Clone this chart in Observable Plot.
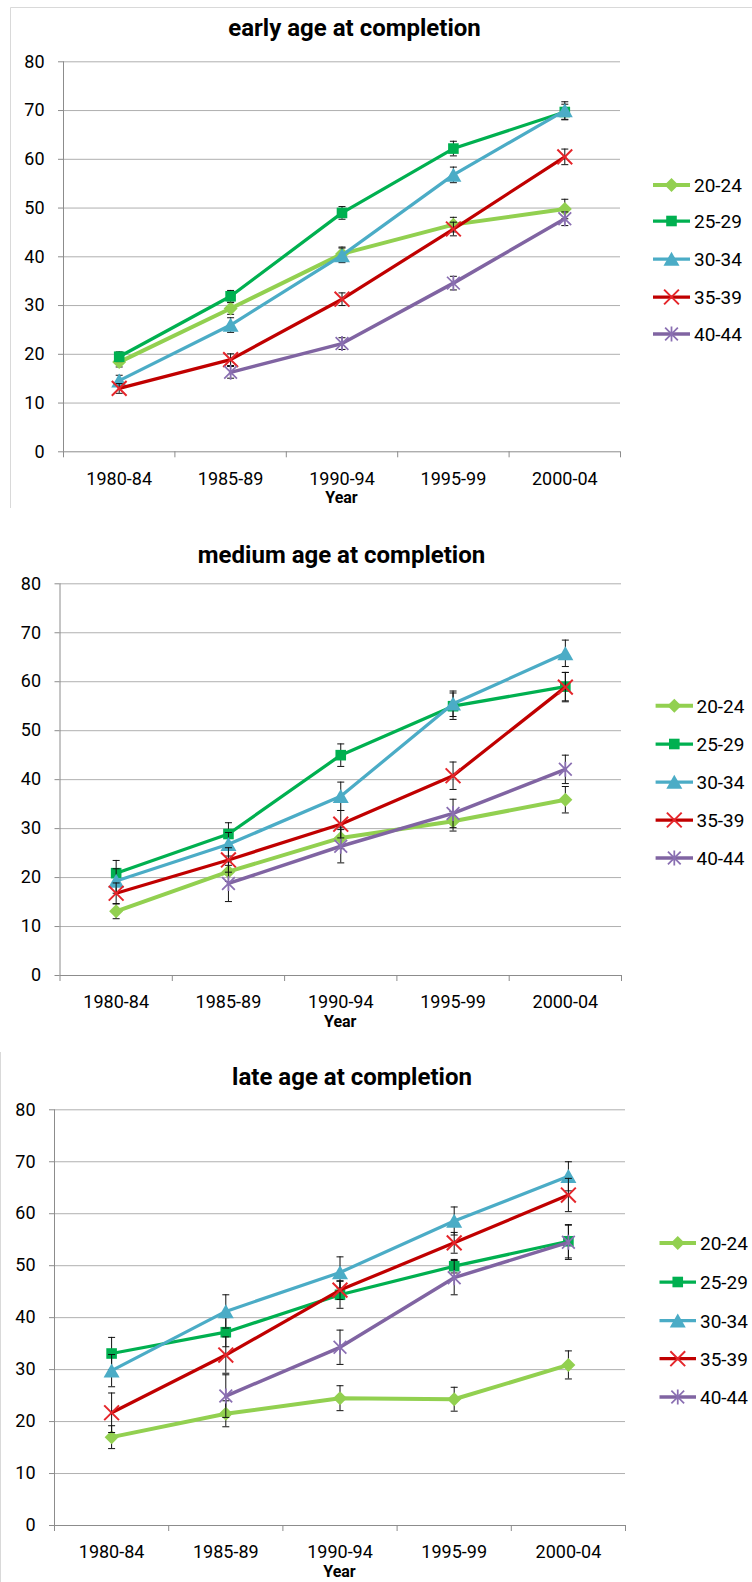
<!DOCTYPE html>
<html>
<head>
<meta charset="utf-8">
<script src="https://cdn.jsdelivr.net/npm/d3@7"></script>
<script src="https://cdn.jsdelivr.net/npm/@observablehq/plot@0.6"></script>
<style>
  body { margin: 0; background: #fff; }
  #root { position: relative; width: 752px; height: 1582px; overflow: hidden; font-family: Roboto, sans-serif; background: #fff; }
  .plotwrap { position: absolute; left: 0; }
  #overlay { position: absolute; left: 0; top: 0; pointer-events: none; }
</style>
</head>
<body>
<div id="root"></div>
<script>
// ---------- DATA ----------
const periods = ["1980-84", "1985-89", "1990-94", "1995-99", "2000-04"];
const ageGroups = ["20-24", "25-29", "30-34", "35-39", "40-44"];
const yTicks = [0, 10, 20, 30, 40, 50, 60, 70, 80];
const panelTitles = ["early age at completion", "medium age at completion", "late age at completion"];
const xTitle = "Year";

// rows follow ageGroups, columns follow periods
const earlyMeans = [
  [18.4, 29.4, 40.6, 46.6, 49.8],
  [19.5, 31.9, 49.0, 62.2, 69.7],
  [14.6, 26.0, 40.3, 56.8, 70.0],
  [13.0, 18.9, 31.3, 45.7, 60.5],
  [null, 16.3, 22.2, 34.6, 47.8]
];
const earlyErrors = [
  [1.0, 1.2, 1.4, 1.5, 2.0],
  [1.0, 1.2, 1.3, 1.5, 1.6],
  [1.1, 1.5, 1.5, 1.6, 1.8],
  [1.0, 1.2, 1.3, 1.4, 1.6],
  [null, 1.2, 1.2, 1.4, 1.4]
];
const mediumMeans = [
  [13.1, 21.2, 28.1, 31.5, 35.9],
  [20.9, 28.9, 45.0, 55.0, 59.0],
  [19.3, 26.8, 36.6, 55.5, 65.8],
  [16.8, 23.6, 30.9, 40.8, 58.9],
  [null, 18.8, 26.4, 33.1, 42.1]
];
const mediumErrors = [
  [1.5, 2.0, 2.2, 2.0, 2.7],
  [2.6, 2.3, 2.3, 2.7, 2.9],
  [2.5, 2.4, 2.9, 2.6, 2.7],
  [2.1, 2.5, 2.8, 2.8, 3.0],
  [null, 3.7, 3.4, 2.9, 2.9]
];
const lateMeans = [
  [17.0, 21.5, 24.5, 24.3, 30.9],
  [33.1, 37.2, 44.4, 49.9, 54.7],
  [29.8, 41.2, 48.7, 58.6, 67.2],
  [21.7, 32.8, 45.3, 54.4, 63.6],
  [null, 24.9, 34.3, 47.7, 54.5]
];
const lateErrors = [
  [2.2, 2.5, 2.4, 2.3, 2.7],
  [3.1, 2.8, 2.6, 1.3, 3.2],
  [3.1, 3.2, 3.0, 2.7, 2.8],
  [3.8, 3.5, 1.8, 2.0, 3.2],
  [null, 4.1, 3.3, 3.3, 3.3]
];

// ---------- SYMBOLS ----------
const rad = s => Math.sqrt(s / Math.PI);
const symDiamond = { draw(c, s) { const r = rad(s); c.moveTo(0, -r); c.lineTo(r, 0); c.lineTo(0, r); c.lineTo(-r, 0); c.closePath(); } };
const symSquare = { draw(c, s) { const r = rad(s); c.moveTo(-r, -r); c.lineTo(r, -r); c.lineTo(r, r); c.lineTo(-r, r); c.closePath(); } };
const symTriangle = { draw(c, s) { const r = rad(s); c.moveTo(0, -0.9 * r); c.lineTo(r, 0.85 * r); c.lineTo(-r, 0.85 * r); c.closePath(); } };
const symTimes = { draw(c, s) { const r = rad(s); c.moveTo(-r, -r); c.lineTo(r, r); c.moveTo(-r, r); c.lineTo(r, -r); } };
const symStar = { draw(c, s) { const r = rad(s), d = 0.85 * r; c.moveTo(-d, -d); c.lineTo(d, d); c.moveTo(-d, d); c.lineTo(d, -d); c.moveTo(0, -r); c.lineTo(0, r); } };
const symCap = { draw(c, s) { const r = rad(s); c.moveTo(-r, 0); c.lineTo(r, 0); } };

const seriesStyle = [
  { color: "#92d050", mark: "#92d050", width: 4, symbol: symDiamond, r: 7, filled: true },
  { color: "#00b050", mark: "#00b050", width: 3.25, symbol: symSquare, r: 5.3, filled: true },
  { color: "#4bacc6", mark: "#4bacc6", width: 3.25, symbol: symTriangle, r: 8, filled: true },
  { color: "#c00000", mark: "#e5262b", width: 3.25, symbol: symTimes, r: 7.4, filled: false, sw: 2 },
  { color: "#8064a2", mark: "#8a6fb2", width: 3.5, symbol: symStar, r: 7.5, filled: false, sw: 1.75 }
];

const layout = [
  { top: 0, h: 510, plotTop: 61.3, plotBottom: 451.3, left: 63, right: 620, titleX: 354.5, titleY: 36, yearY: 503,
    legendY: [185, 221, 259, 297, 334], lx1: 653, lx2: 690, ltx: 694 },
  { top: 520, h: 520, plotTop: 583.3, plotBottom: 975, left: 59.5, right: 621, titleX: 341.5, titleY: 562.5, yearY: 1027,
    legendY: [705.7, 744, 782, 820, 858], lx1: 655.6, lx2: 693, ltx: 696.5 },
  { top: 1040, h: 542, plotTop: 1109.3, plotBottom: 1525, left: 54, right: 625, titleX: 352, titleY: 1085, yearY: 1577,
    legendY: [1243, 1282, 1320.7, 1358.7, 1397], lx1: 659.5, lx2: 696, ltx: 700 }
];

const panelMeans = [earlyMeans, mediumMeans, lateMeans];
const panelErrors = [earlyErrors, mediumErrors, lateErrors];

const root = document.getElementById("root");
const gridColor = "#b0b0b0";
const axisColor = "#8c8c8c";

panelMeans.forEach((means, p) => {
  const L = layout[p];
  const rows = [];
  ageGroups.forEach((g, gi) => {
    periods.forEach((per, pi) => {
      rows.push({ group: g, gi, period: per, pos: pi + 0.5, v: means[gi][pi], e: panelErrors[p][gi][pi] });
    });
  });

  const marks = [
    Plot.gridY(yTicks.filter(t => t > 0), { stroke: gridColor, strokeOpacity: 1, strokeWidth: 1 }),
    Plot.axisY({ ticks: yTicks, tickSize: 5, tickPadding: 14, stroke: axisColor, fontSize: 18, label: null, tickFormat: d => String(d) }),
    Plot.ruleY([0], { stroke: axisColor }),
    Plot.ruleX([0], { stroke: axisColor }),
    Plot.axisX({ ticks: d3.range(0, periods.length + 1), tickSize: 6, tickFormat: () => "", stroke: axisColor, label: null }),
    Plot.axisX({ ticks: periods.map((_, i) => i + 0.5), tickSize: 0, tickPadding: 20, fontSize: 18, label: null,
                 tickFormat: d => periods[Math.floor(d)] })
  ];

  ageGroups.forEach((g, gi) => {
    const st = seriesStyle[gi];
    const sr = rows.filter(r => r.gi === gi);
    const valid = sr.filter(r => r.v != null);
    marks.push(Plot.line(sr, { x: "pos", y: "v", stroke: st.color, strokeWidth: st.width, strokeLinejoin: "round", strokeLinecap: "round" }));
    marks.push(Plot.ruleX(valid, { x: "pos", y1: d => d.v - d.e, y2: d => d.v + d.e, stroke: "#111", strokeWidth: 1 }));
    marks.push(Plot.dot(valid, { x: "pos", y: d => d.v - d.e, symbol: symCap, r: 3.5, stroke: "#111", strokeWidth: 1, fill: "none" }));
    marks.push(Plot.dot(valid, { x: "pos", y: d => d.v + d.e, symbol: symCap, r: 3.5, stroke: "#111", strokeWidth: 1, fill: "none" }));
    if (st.filled) {
      marks.push(Plot.dot(valid, { x: "pos", y: "v", symbol: st.symbol, r: st.r, fill: st.mark, stroke: "none" }));
    } else {
      marks.push(Plot.dot(valid, { x: "pos", y: "v", symbol: st.symbol, r: st.r, fill: "none", stroke: st.mark, strokeWidth: st.sw }));
    }
  });

  const chart = Plot.plot({
    width: 752,
    height: L.h,
    marginTop: L.plotTop - L.top,
    marginBottom: L.top + L.h - L.plotBottom,
    marginLeft: L.left,
    marginRight: 752 - L.right,
    style: { fontFamily: "Roboto, sans-serif", fontSize: "18px", color: "#000", background: "transparent", overflow: "visible" },
    x: { type: "linear", domain: [0, periods.length] },
    y: { type: "linear", domain: [0, 80] },
    marks
  });
  const wrap = document.createElement("div");
  wrap.className = "plotwrap";
  wrap.style.top = L.top + "px";
  wrap.appendChild(chart);
  root.appendChild(wrap);
});

// ---------- OVERLAY: titles, axis titles, legends, frame lines ----------
const ov = d3.select(root).append("svg").attr("id", "overlay").attr("width", 752).attr("height", 1582);
ov.append("path").attr("d", "M10.5,508 V7.5 H752").attr("fill", "none").attr("stroke", "#d9d9d9");
ov.append("path").attr("d", "M0.5,1582 V1052").attr("fill", "none").attr("stroke", "#d9d9d9");

layout.forEach((L, p) => {
  ov.append("text").attr("x", L.titleX).attr("y", L.titleY).attr("text-anchor", "middle")
    .attr("font-family", "Roboto, sans-serif").attr("font-weight", "bold").attr("font-size", 24).attr("fill", "#000")
    .text(panelTitles[p]);
  ov.append("text").attr("x", (L.left + L.right) / 2).attr("y", L.yearY).attr("text-anchor", "middle")
    .attr("font-family", "Roboto, sans-serif").attr("font-weight", "bold").attr("font-size", 16).attr("fill", "#000")
    .text(xTitle);
  ageGroups.forEach((g, gi) => {
    const st = seriesStyle[gi];
    const y = L.legendY[gi];
    ov.append("line").attr("x1", L.lx1).attr("x2", L.lx2).attr("y1", y).attr("y2", y)
      .attr("stroke", st.color).attr("stroke-width", st.width);
    const path = d3.path();
    st.symbol.draw(path, st.r * st.r * Math.PI);
    const sp = ov.append("path").attr("d", path.toString())
      .attr("transform", `translate(${(L.lx1 + L.lx2) / 2},${y})`);
    if (st.filled) sp.attr("fill", st.mark);
    else sp.attr("fill", "none").attr("stroke", st.mark).attr("stroke-width", st.sw);
    ov.append("text").attr("x", L.ltx).attr("y", y + 6.8)
      .attr("font-family", "Roboto, sans-serif").attr("font-size", 19).attr("fill", "#000").text(g);
  });
});
</script>
</body>
</html>
